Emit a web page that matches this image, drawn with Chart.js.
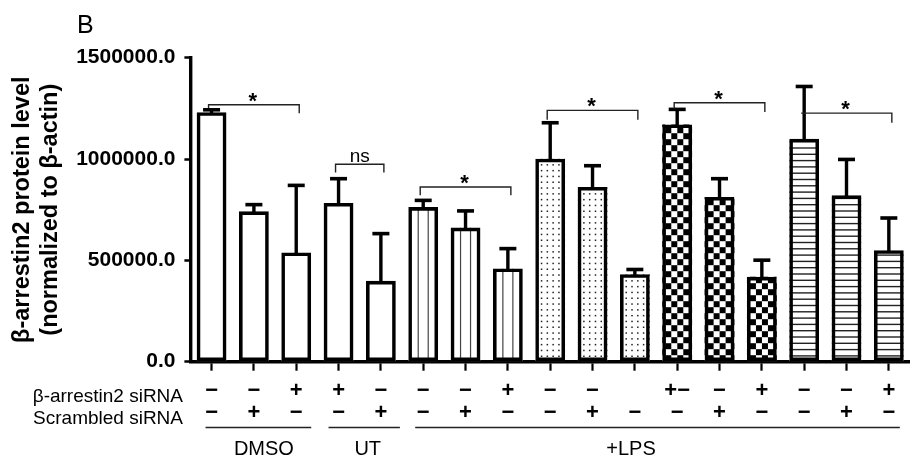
<!DOCTYPE html>
<html><head><meta charset="utf-8">
<script src="https://cdn.jsdelivr.net/npm/chart.js@4/dist/chart.umd.min.js"></script>
<style>html,body{margin:0;padding:0;background:#fff;} #wrap{width:910px;height:463px;position:relative;}</style>
</head><body><div id="wrap"><canvas id="c" width="910" height="463"></canvas></div>
<script>
// ---- data ----
const siRNARow     = ['−','−','+','+','−','−','−','+','−','−','','+−','−','+','−','−','+'];
const scrambledRow = ['−','+','−','−','+','−','+','−','−','+','−','−','+','−','−','+','−'];
const meanValues = [1231000, 742000, 539000, 783000, 399000, 763000, 662000, 460000, 1002000, 862000, 432000, 1171000, 813000, 419000, 1100000, 821000, 550000];
const errValues  = [12000, 33000, 331000, 120000, 233000, 33000, 82000, 98000, 177000, 105000, 23000, 74000, 90000, 82000, 258000, 177000, 159000];
const yTicks = [0, 500000, 1000000, 1500000];
const groupNames = ['DMSO', 'UT', '+LPS'];
const groupFirst = [0, 3, 5];
const groupLast  = [2, 4, 16];
const fillKinds = ['none','none','none','none','none','vline','vline','vline','dots','dots','dots','checker','checker','checker','hline','hline','hline'];
const bracketFrom = [0, 3, 5, 8, 11, 14];
const bracketTo   = [2, 4, 7, 10, 13, 16];
const bracketLevel = [1268000, 974000, 862000, 1240000, 1278000, 1226600];
const bracketLeftDrop  = [1251000, 933000, 821000, 1194000, 1248000, null];
const bracketRightDrop = [1226000, 933000, 821000, 1194000, 1231500, 1179000];
const bracketMark = ['*', 'ns', '*', '*', '*', '*'];
const rowLabels = ['β-arrestin2 siRNA', 'Scrambled siRNA'];

const FONT = '"Liberation Sans", Arial, Helvetica, sans-serif';
const labels = siRNARow.map((s, i) => [s, scrambledRow[i]]);

function drawFill(ctx, kind, left, top, w, h) {
  const right = left + w, bottom = top + h;
  ctx.save();
  ctx.beginPath();
  ctx.rect(left, top, w, h);
  ctx.clip();
  ctx.fillStyle = '#fff';
  ctx.fillRect(left, top, w, h);
  const cx = left + w / 2;
  if (kind === 'vline') {
    ctx.fillStyle = '#444';
    [-5, 5].forEach(o => ctx.fillRect(cx + o - 0.6, top, 1.2, h));
  } else if (kind === 'hline') {
    ctx.fillStyle = '#222';
    for (let y = bottom - 6; y > top; y -= 6.3) ctx.fillRect(left, y, w, 1.4);
  } else if (kind === 'dots') {
    ctx.fillStyle = '#222';
    for (let y = bottom - 5; y > top; y -= 5.8) {
      for (let x = cx - 8.7; x < right; x += 5.8) ctx.fillRect(x - 0.7, y - 0.7, 1.5, 1.5);
    }
  } else if (kind === 'checker') {
    ctx.fillStyle = '#000';
    const s = 6;
    let r = 0;
    for (let y = bottom - s; y > top - s; y -= s, r++) {
      let c = 0;
      for (let x = left + 3; x < right; x += s, c++) {
        if ((r + c) % 2 === 0) ctx.fillRect(x, y, s, s);
      }
      if ((r + 1) % 2 === 0) ctx.fillRect(left + 3 - s, y, s, s);
    }
  }
  ctx.restore();
}

const decor = {
  id: 'decor',
  beforeDatasetsDraw(chart) {
    const ctx = chart.ctx;
    const meta = chart.getDatasetMeta(0);
    meta.data.forEach((el, i) => {
      const p = el.getProps(['x', 'y', 'base', 'width'], true);
      drawFill(ctx, fillKinds[i], p.x - p.width / 2, p.y, p.width, p.base - p.y);
    });
  },
  afterDatasetsDraw(chart) {
    const ctx = chart.ctx;
    const ys = chart.scales.y, xs = chart.scales.x;
    const meta = chart.getDatasetMeta(0);
    ctx.save();
    ctx.strokeStyle = '#000';
    ctx.lineCap = 'butt';
    // error bars (upper only)
    meta.data.forEach((el, i) => {
      const p = el.getProps(['x', 'y'], true);
      const yt = ys.getPixelForValue(meanValues[i] + errValues[i]);
      ctx.lineWidth = 3.4;
      ctx.beginPath();
      ctx.moveTo(p.x, p.y + 1);
      ctx.lineTo(p.x, yt);
      ctx.stroke();
      ctx.lineWidth = 3.6;
      ctx.beginPath();
      ctx.moveTo(p.x - 8.5, yt);
      ctx.lineTo(p.x + 8.5, yt);
      ctx.stroke();
    });
    // significance brackets
    ctx.lineWidth = 1.4;
    ctx.strokeStyle = '#222';
    ctx.fillStyle = '#000';
    bracketFrom.forEach((f, k) => {
      const x1 = xs.getPixelForValue(f) - 3;
      const x2 = xs.getPixelForValue(bracketTo[k]) + 3;
      const yl = ys.getPixelForValue(bracketLevel[k]);
      ctx.beginPath();
      if (bracketLeftDrop[k] !== null) {
        ctx.moveTo(x1, ys.getPixelForValue(bracketLeftDrop[k]));
        ctx.lineTo(x1, yl);
      } else {
        ctx.moveTo(x1, yl);
      }
      ctx.lineTo(x2, yl);
      ctx.lineTo(x2, ys.getPixelForValue(bracketRightDrop[k]));
      ctx.stroke();
      const mx = (x1 + x2) / 2;
      ctx.textAlign = 'center';
      ctx.textBaseline = 'alphabetic';
      if (bracketMark[k] === '*') {
        ctx.font = 'bold 22px ' + FONT;
        ctx.fillText('*', mx - 1, yl + 3);
      } else {
        ctx.font = '19px ' + FONT;
        ctx.fillText(bracketMark[k], mx, yl - 2);
      }
    });
    ctx.restore();
  },
  afterDraw(chart) {
    const ctx = chart.ctx;
    const xs = chart.scales.x;
    ctx.save();
    ctx.fillStyle = '#000';
    // panel letter
    ctx.font = '25px ' + FONT;
    ctx.textAlign = 'left';
    ctx.textBaseline = 'alphabetic';
    ctx.fillText('B', 77, 33);
    // row labels
    ctx.font = '19px ' + FONT;
    ctx.textAlign = 'right';
    ctx.fillText(rowLabels[0], 183, 402);
    ctx.fillText(rowLabels[1], 183, 424);
    // group underline + names
    const offL = [-6, -10, -8], offR = [15, 19, 11], offT = [10, 8, -25];
    ctx.strokeStyle = '#222';
    ctx.lineWidth = 1.5;
    ctx.font = '20px ' + FONT;
    ctx.textAlign = 'center';
    groupNames.forEach((g, k) => {
      const a = xs.getPixelForValue(groupFirst[k]) + offL[k];
      const b = xs.getPixelForValue(groupLast[k]) + offR[k];
      ctx.beginPath();
      ctx.moveTo(a, 427.5);
      ctx.lineTo(b, 427.5);
      ctx.stroke();
      const c = (xs.getPixelForValue(groupFirst[k]) + xs.getPixelForValue(groupLast[k])) / 2 + offT[k];
      ctx.fillText(g, c, 455);
    });
    ctx.restore();
  }
};

new Chart(document.getElementById('c'), {
  type: 'bar',
  data: {
    labels: labels,
    datasets: [{
      data: meanValues,
      backgroundColor: 'rgba(0,0,0,0)',
      borderColor: '#000',
      borderWidth: 3.6,
      borderSkipped: false,
      barPercentage: 0.704,
      categoryPercentage: 1.0
    }]
  },
  options: {
    responsive: false,
    animation: false,
    devicePixelRatio: 1,
    layout: { padding: { top: 57.7, right: -4.6, left: 0, bottom: 0 } },
    plugins: { legend: { display: false }, tooltip: { enabled: false } },
    scales: {
      x: {
        offset: true,
        grid: { display: true, drawOnChartArea: false, drawTicks: true, tickLength: 9, tickWidth: 2.2, tickColor: '#000', offset: false },
        border: { display: true, color: '#000', width: 3.4 },
        ticks: {
          color: '#000', padding: 10, autoSkip: false, maxRotation: 0,
          font: { family: FONT, size: 22, weight: 'bold', lineHeight: 0.97 }
        },
        afterFit(scale) { scale.height = 101.3; }
      },
      y: {
        min: 0, max: 1500000,
        afterBuildTicks(scale) { scale.ticks = yTicks.map(v => ({ value: v })); },
        grid: { display: true, drawOnChartArea: false, drawTicks: true, tickLength: 6, tickWidth: 2.5, tickColor: '#000' },
        border: { display: true, color: '#000', width: 3.4 },
        ticks: {
          color: '#000', padding: 9,
          font: { family: FONT, size: 21, weight: 'bold' },
          callback: v => Number(v).toFixed(1)
        },
        title: {
          display: true,
          text: ['β-arrestin2 protein level', '(normalized to β-actin)'],
          color: '#000',
          font: { family: FONT, size: 23.5, weight: 'bold', lineHeight: 1.22 },
          padding: { top: 8, bottom: 0 }
        },
        afterFit(scale) { scale.width = 190.4; }
      }
    }
  },
  plugins: [decor]
});
</script>
</body></html>
